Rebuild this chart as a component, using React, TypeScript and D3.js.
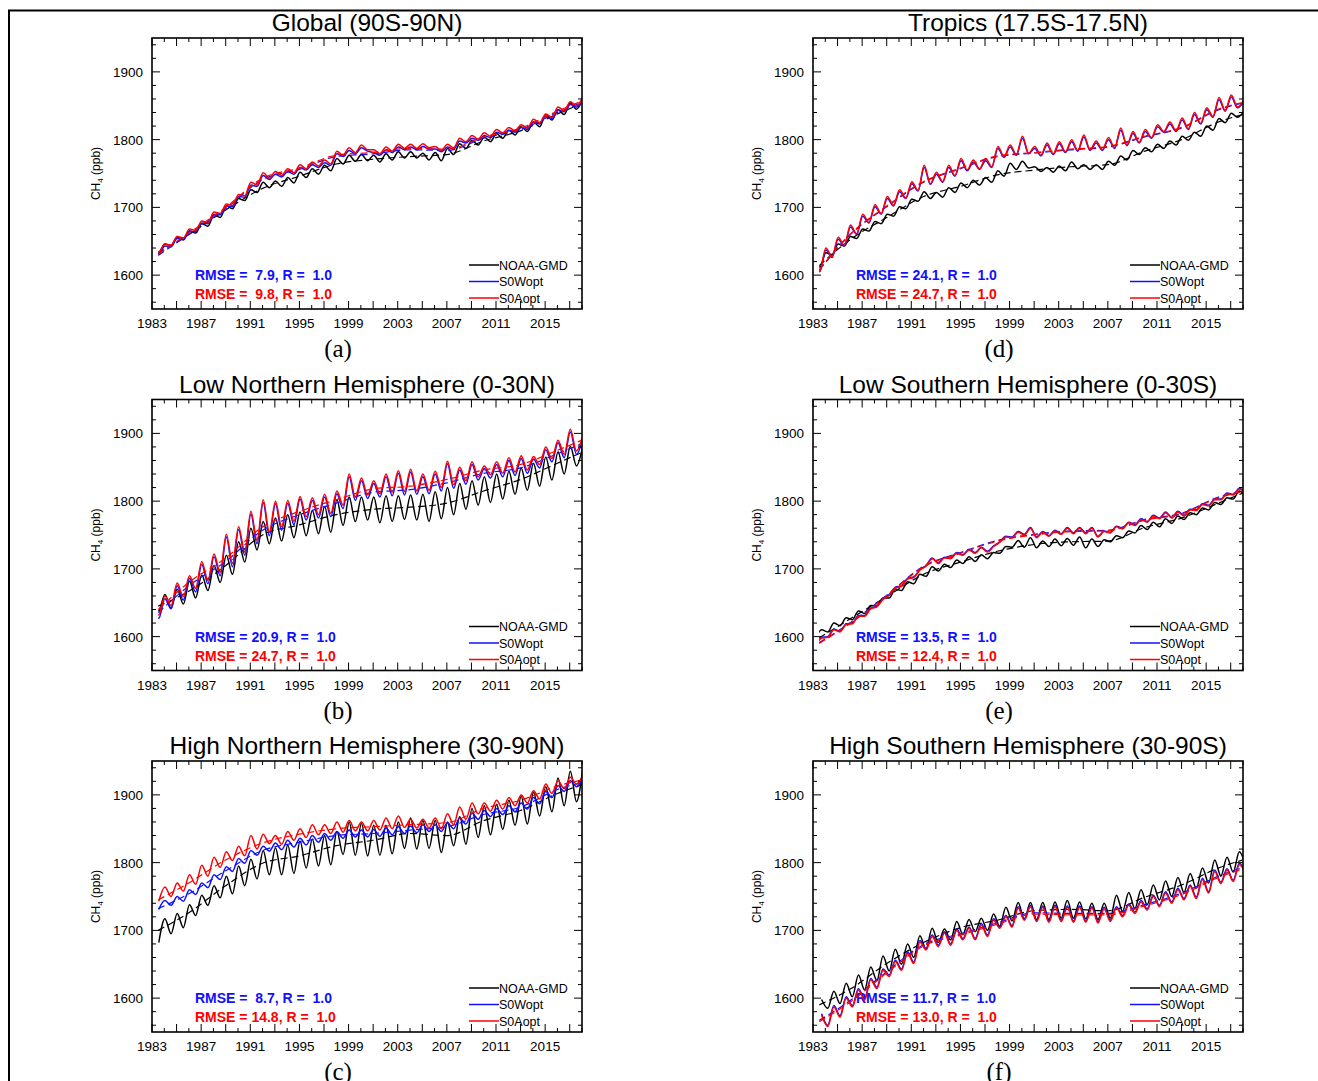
import React from 'react';
import * as d3 from 'd3';

// ---------- categories / ticks ----------
const YEARS = d3.range(1983, 2019);
const TREND_YEARS = [1983.5, 1986, 1989, 1992, 1995, 1998, 2001, 2004, 2007, 2010, 2013, 2016, 2018];
const X_TICK_LABELS = [1983, 1987, 1991, 1995, 1999, 2003, 2007, 2011, 2015];
const Y_TICK_LABELS = [1600, 1700, 1800, 1900];
const SERIES_NAMES = ['NOAA-GMD', 'S0Wopt', 'S0Aopt'];
const SERIES_COLORS = ['#000000', '#1010ff', '#ff0000'];

// ---------- (a) Global ----------
const GLB_NOAA_LO = [1634,1644,1652,1662,1672,1685,1698,1710,1722,1729,1731,1736,1744,1749,1754,1764,1768,1769,1767,1770,1773,1773,1770,1769,1778,1787,1792,1797,1802,1807,1812,1819,1829,1837,1845];
const GLB_NOAA_HI = [1636,1646,1656,1665,1676,1689,1702,1713,1726,1737,1739,1744,1752,1757,1762,1772,1777,1778,1777,1779,1782,1782,1780,1781,1787,1794,1799,1804,1809,1814,1819,1826,1837,1844,1854,1859];
const GLB_NOAA_TREND = [1632,1660,1696,1728,1746,1764,1771,1775,1778,1798,1813,1838,1853];
const GLB_W_LO = [1631,1642,1653,1664,1676,1689,1701,1715,1731,1741,1745,1749,1755,1759,1762,1775,1779,1783,1777,1781,1785,1785,1786,1782,1786,1795,1799,1803,1808,1811,1815,1823,1831,1841,1848];
const GLB_W_HI = [1631,1643,1654,1665,1677,1690,1702,1716,1733,1747,1749,1753,1759,1763,1766,1779,1784,1788,1781,1785,1789,1789,1790,1786,1789,1798,1802,1806,1811,1814,1818,1826,1834,1844,1852,1858];
const GLB_W_TREND = [1629,1660,1698,1741,1756,1775,1779,1785,1784,1802,1815,1840,1855];
const GLB_A_LO = [1634,1644,1655,1666,1678,1691,1703,1717,1733,1743,1747,1751,1757,1761,1764,1777,1781,1785,1779,1783,1787,1787,1788,1784,1788,1797,1801,1805,1810,1813,1817,1825,1833,1843,1850];
const GLB_A_HI = [1634,1646,1657,1668,1680,1693,1705,1719,1737,1751,1753,1757,1763,1767,1770,1783,1788,1792,1785,1789,1793,1793,1794,1790,1793,1802,1806,1810,1815,1818,1822,1830,1838,1848,1856,1862];
const GLB_A_TREND = [1631,1662,1700,1743,1758,1777,1781,1787,1786,1804,1817,1842,1857];

// ---------- (b) Low Northern Hemisphere ----------
const LNH_NOAA_LO = [1638,1642,1648,1657,1668,1680,1692,1710,1728,1737,1741,1746,1749,1752,1754,1764,1770,1772,1768,1770,1773,1772,1770,1774,1780,1788,1794,1798,1803,1810,1816,1822,1831,1840,1852];
const LNH_NOAA_HI = [1658,1662,1670,1682,1691,1705,1720,1740,1760,1770,1775,1780,1784,1786,1792,1802,1806,1806,1806,1808,1808,1809,1810,1814,1820,1826,1830,1836,1840,1844,1849,1856,1865,1873,1881,1880];
const LNH_NOAA_TREND = [1645,1667,1705,1750,1765,1780,1788,1791,1797,1815,1832,1856,1872];
const LNH_W_LO = [1627,1641,1654,1666,1678,1690,1703,1720,1737,1749,1757,1765,1772,1775,1777,1789,1801,1804,1806,1808,1809,1810,1811,1815,1819,1825,1831,1834,1836,1838,1841,1849,1858,1864,1869];
const LNH_W_HI = [1646,1656,1675,1686,1707,1718,1747,1758,1781,1798,1796,1797,1803,1801,1806,1811,1836,1830,1826,1836,1841,1843,1836,1840,1855,1846,1854,1848,1854,1860,1863,1862,1876,1886,1902,1891];
const LNH_W_TREND = [1635,1675,1711,1757,1780,1797,1813,1817,1827,1841,1849,1870,1885];
const LNH_A_LO = [1632,1646,1659,1671,1683,1695,1708,1725,1742,1754,1762,1770,1777,1780,1782,1794,1806,1809,1811,1813,1814,1815,1816,1820,1824,1830,1836,1839,1841,1843,1846,1854,1863,1869,1874];
const LNH_A_HI = [1650,1660,1679,1690,1711,1722,1751,1762,1785,1802,1800,1801,1807,1805,1810,1815,1840,1834,1830,1840,1845,1847,1840,1844,1859,1850,1858,1852,1858,1864,1867,1866,1880,1890,1906,1895];
const LNH_A_TREND = [1640,1680,1716,1762,1785,1802,1818,1822,1832,1846,1854,1875,1890];

// ---------- (c) High Northern Hemisphere ----------
const HNH_NOAA_LO = [1682,1695,1704,1722,1737,1748,1754,1766,1776,1782,1782,1784,1792,1795,1797,1812,1811,1810,1811,1813,1821,1820,1821,1815,1825,1827,1837,1841,1849,1855,1857,1869,1875,1884,1890];
const HNH_NOAA_HI = [1717,1725,1738,1752,1766,1780,1795,1805,1818,1822,1826,1832,1835,1840,1846,1860,1858,1855,1855,1860,1866,1862,1862,1860,1868,1880,1884,1886,1892,1898,1904,1912,1925,1935,1937];
const HNH_NOAA_TREND = [1700,1726,1766,1799,1810,1825,1833,1843,1840,1862,1877,1902,1915];
const HNH_W_LO = [1731,1737,1743,1753,1763,1775,1787,1799,1811,1817,1819,1823,1826,1830,1833,1836,1838,1838,1839,1841,1843,1844,1846,1846,1850,1857,1864,1868,1871,1875,1879,1887,1896,1905,1912];
const HNH_W_HI = [1744,1750,1760,1770,1782,1794,1806,1818,1824,1829,1833,1836,1840,1843,1846,1848,1848,1849,1851,1853,1854,1856,1856,1859,1866,1873,1877,1880,1884,1888,1896,1905,1914,1921,1925];
const HNH_W_TREND = [1732,1754,1788,1818,1830,1840,1843,1848,1853,1871,1882,1908,1918];
const HNH_A_LO = [1743,1750,1758,1768,1780,1793,1803,1810,1820,1828,1827,1833,1837,1841,1843,1845,1847,1847,1848,1850,1852,1851,1851,1850,1856,1864,1872,1876,1879,1884,1888,1894,1902,1909,1916];
const HNH_A_HI = [1764,1770,1782,1796,1808,1816,1824,1840,1842,1840,1846,1850,1856,1856,1860,1862,1860,1862,1866,1869,1864,1864,1866,1872,1882,1888,1888,1892,1896,1900,1906,1916,1921,1926,1928];
const HNH_A_TREND = [1745,1770,1804,1829,1842,1850,1853,1856,1859,1880,1892,1913,1922];

// ---------- (d) Tropics ----------
const TRP_NOAA_LO = [1612,1630,1643,1654,1665,1676,1687,1698,1709,1713,1715,1722,1729,1733,1737,1746,1756,1758,1753,1752,1754,1757,1756,1756,1762,1770,1778,1782,1787,1792,1799,1805,1814,1825,1833];
const TRP_NOAA_HI = [1619,1633,1646,1657,1668,1679,1690,1701,1712,1723,1722,1729,1736,1740,1744,1754,1765,1768,1760,1759,1761,1767,1763,1763,1768,1776,1784,1788,1793,1798,1805,1811,1820,1831,1839,1841];
const TRP_NOAA_TREND = [1614,1652,1685,1716,1731,1748,1755,1760,1763,1783,1800,1826,1837];
const TRP_W_LO = [1605,1626,1643,1660,1677,1690,1702,1713,1724,1734,1737,1746,1754,1756,1759,1774,1777,1779,1776,1778,1781,1783,1784,1784,1787,1791,1795,1802,1811,1812,1815,1823,1833,1842,1847];
const TRP_W_HI = [1615,1637,1653,1671,1687,1701,1713,1723,1735,1759,1749,1759,1769,1767,1769,1787,1789,1802,1787,1792,1794,1797,1804,1795,1800,1814,1809,1812,1819,1823,1829,1837,1844,1859,1863,1855];
const TRP_W_TREND = [1607,1659,1701,1737,1757,1775,1780,1785,1789,1804,1817,1844,1854];
const TRP_A_LO = [1606,1627,1644,1661,1678,1691,1703,1714,1725,1735,1738,1747,1755,1757,1760,1775,1778,1780,1777,1779,1782,1784,1785,1785,1788,1792,1796,1803,1812,1813,1816,1824,1834,1843,1848];
const TRP_A_HI = [1618,1640,1656,1674,1690,1704,1716,1726,1738,1762,1752,1762,1772,1770,1772,1790,1792,1805,1790,1795,1797,1800,1807,1798,1803,1817,1812,1815,1822,1826,1832,1840,1847,1862,1866,1858];
const TRP_A_TREND = [1608,1660,1702,1738,1758,1776,1781,1786,1790,1805,1818,1845,1855];

// ---------- (e) Low Southern Hemisphere ----------
const LSH_NOAA_HI = [1610,1620,1628,1638,1646,1657,1670,1681,1692,1703,1707,1713,1718,1721,1724,1733,1742,1746,1741,1744,1745,1747,1744,1743,1749,1756,1764,1769,1774,1778,1783,1790,1798,1805,1815];
const LSH_NOAA_LO = [1598,1607,1616,1625,1634,1645,1657,1668,1678,1689,1697,1702,1708,1711,1715,1723,1732,1732,1731,1733,1734,1735,1731,1733,1740,1746,1753,1758,1762,1767,1773,1780,1787,1795,1803,1808];
const LSH_NOAA_TREND = [1598,1626,1659,1692,1710,1726,1736,1740,1741,1761,1775,1797,1812];
const LSH_W_HI = [1599,1611,1619,1631,1642,1656,1673,1686,1699,1716,1717,1724,1729,1732,1734,1748,1755,1761,1755,1757,1761,1761,1761,1756,1763,1769,1774,1779,1784,1785,1788,1796,1803,1812,1819];
const LSH_W_LO = [1585,1600,1608,1620,1631,1645,1662,1675,1688,1705,1709,1716,1721,1724,1726,1740,1747,1751,1747,1749,1752,1753,1753,1748,1754,1760,1765,1770,1775,1776,1779,1787,1794,1803,1810,1813];
const LSH_W_TREND = [1591,1620,1661,1704,1724,1742,1751,1756,1757,1773,1782,1806,1815];
const LSH_A_HI = [1598,1610,1618,1630,1641,1655,1672,1685,1698,1715,1716,1723,1728,1731,1733,1747,1754,1760,1754,1756,1760,1760,1760,1755,1762,1768,1773,1778,1783,1784,1787,1795,1802,1811,1818];
const LSH_A_LO = [1584,1599,1607,1619,1630,1644,1661,1674,1687,1704,1708,1715,1720,1723,1725,1739,1746,1750,1746,1748,1751,1752,1752,1747,1753,1759,1764,1769,1774,1775,1778,1786,1793,1802,1809,1812];
const LSH_A_TREND = [1590,1619,1660,1703,1723,1741,1750,1755,1756,1772,1781,1805,1814];

// ---------- (f) High Southern Hemisphere ----------
const HSH_NOAA_HI = [1598,1610,1622,1634,1646,1662,1672,1680,1692,1703,1702,1713,1716,1718,1724,1734,1741,1741,1741,1742,1744,1742,1740,1740,1752,1756,1760,1767,1773,1778,1784,1792,1804,1808,1816];
const HSH_NOAA_LO = [1585,1592,1602,1612,1626,1640,1650,1660,1672,1682,1686,1694,1698,1700,1706,1714,1716,1716,1716,1718,1718,1717,1716,1718,1728,1732,1738,1745,1750,1756,1762,1770,1780,1786,1796];
const HSH_NOAA_TREND = [1590,1613,1651,1682,1704,1715,1729,1731,1729,1749,1767,1792,1804];
const HSH_W_HI = [1577,1589,1602,1614,1629,1643,1656,1668,1685,1693,1698,1702,1705,1710,1717,1722,1735,1737,1736,1737,1736,1736,1735,1734,1735,1739,1744,1752,1757,1762,1767,1777,1789,1791,1799];
const HSH_W_LO = [1560,1574,1589,1599,1616,1634,1643,1653,1673,1678,1680,1688,1688,1693,1705,1707,1717,1715,1714,1715,1714,1714,1713,1715,1722,1727,1732,1737,1742,1747,1749,1757,1771,1774,1787];
const HSH_W_TREND = [1567,1596,1639,1679,1695,1711,1726,1725,1725,1738,1755,1780,1793];
const HSH_A_HI = [1575,1587,1600,1612,1627,1641,1654,1666,1683,1691,1696,1700,1703,1708,1715,1720,1733,1735,1734,1735,1734,1734,1733,1732,1733,1737,1742,1750,1755,1760,1765,1775,1787,1789,1797];
const HSH_A_LO = [1558,1572,1587,1597,1614,1632,1641,1651,1671,1676,1678,1686,1686,1691,1703,1705,1715,1713,1712,1713,1712,1712,1711,1713,1720,1725,1730,1735,1740,1745,1747,1755,1769,1772,1785];
const HSH_A_TREND = [1565,1594,1637,1677,1693,1709,1724,1723,1723,1736,1753,1778,1791];

// ---------- panels ----------
const PANELS = [
  { title: 'Global (90S-90N)', label: '(a)', col: 0, row: 0, pLo: 0.55, pHi: 0.05, rmse: ['7.9', '9.8'],
    series: [[GLB_NOAA_LO, GLB_NOAA_HI, GLB_NOAA_TREND], [GLB_W_LO, GLB_W_HI, GLB_W_TREND], [GLB_A_LO, GLB_A_HI, GLB_A_TREND]] },
  { title: 'Low Northern Hemisphere (0-30N)', label: '(b)', col: 0, row: 1, pLo: 0.55, pHi: 0.05, rmse: ['20.9', '24.7'],
    series: [[LNH_NOAA_LO, LNH_NOAA_HI, LNH_NOAA_TREND], [LNH_W_LO, LNH_W_HI, LNH_W_TREND], [LNH_A_LO, LNH_A_HI, LNH_A_TREND]] },
  { title: 'High Northern Hemisphere (30-90N)', label: '(c)', col: 0, row: 2, pLo: 0.55, pHi: 1.05, rmse: ['8.7', '14.8'],
    series: [[HNH_NOAA_LO, HNH_NOAA_HI, HNH_NOAA_TREND], [HNH_W_LO, HNH_W_HI, HNH_W_TREND], [HNH_A_LO, HNH_A_HI, HNH_A_TREND]] },
  { title: 'Tropics (17.5S-17.5N)', label: '(d)', col: 1, row: 0, pLo: 0.55, pHi: 0.05, rmse: ['24.1', '24.7'],
    series: [[TRP_NOAA_LO, TRP_NOAA_HI, TRP_NOAA_TREND], [TRP_W_LO, TRP_W_HI, TRP_W_TREND], [TRP_A_LO, TRP_A_HI, TRP_A_TREND]] },
  { title: 'Low Southern Hemisphere (0-30S)', label: '(e)', col: 1, row: 1, pLo: 0.2, pHi: 0.7, rmse: ['13.5', '12.4'],
    series: [[LSH_NOAA_LO, LSH_NOAA_HI, LSH_NOAA_TREND], [LSH_W_LO, LSH_W_HI, LSH_W_TREND], [LSH_A_LO, LSH_A_HI, LSH_A_TREND]] },
  { title: 'High Southern Hemisphere (30-90S)', label: '(f)', col: 1, row: 2, pLo: 1.2, pHi: 0.7, rmse: ['11.7', '13.0'],
    series: [[HSH_NOAA_LO, HSH_NOAA_HI, HSH_NOAA_TREND], [HSH_W_LO, HSH_W_HI, HSH_W_TREND], [HSH_A_LO, HSH_A_HI, HSH_A_TREND]] },
];

const COL_X = [152, 813];
const ROW_Y = [38, 399.5, 761];
const PW = 430;
const PH = 271;
const SANS = '"Liberation Sans", Arial, Helvetica, sans-serif';
const SERIF = '"Liberation Serif", "Times New Roman", serif';

function buildPoints(lo: number[], hi: number[], pLo: number, pHi: number): [number, number][] {
  const pts: [number, number][] = [];
  YEARS.forEach((yr, i) => {
    if (lo[i] != null) pts.push([yr + pLo, lo[i]]);
    if (hi[i] != null) pts.push([yr + pHi, hi[i]]);
  });
  return pts.sort((a, b) => a[0] - b[0]);
}

function Panel({ p, idx }: { p: any; idx: number }) {
  const x0 = COL_X[p.col];
  const y0 = ROW_Y[p.row];
  const x = d3.scaleLinear().domain([1983, 2018]).range([x0, x0 + PW]);
  const y = d3.scaleLinear().domain([1550, 1950]).range([y0 + PH, y0]);
  const line = d3.line<[number, number]>().x((d) => x(d[0])).y((d) => y(d[1])).curve(d3.curveMonotoneX);
  const clipId = `clip-${idx}`;

  const xMinor = d3.range(1983, 2019);
  const yMinor = d3.range(1560, 1950, 20);
  const ticks: JSX.Element[] = [];
  xMinor.forEach((t) => {
    const major = (t - 1983) % 2 === 0;
    const L = major ? 8 : 4;
    const xx = x(t);
    ticks.push(<line key={`xb${t}`} x1={xx} x2={xx} y1={y0 + PH} y2={y0 + PH - L} />);
    ticks.push(<line key={`xt${t}`} x1={xx} x2={xx} y1={y0} y2={y0 + L} />);
  });
  yMinor.forEach((v) => {
    const major = v % 100 === 0;
    const L = major ? 8 : 4;
    const yy = y(v);
    ticks.push(<line key={`yl${v}`} x1={x0} x2={x0 + L} y1={yy} y2={yy} />);
    ticks.push(<line key={`yr${v}`} x1={x0 + PW} x2={x0 + PW - L} y1={yy} y2={yy} />);
  });

  const rmseText = (v: string) => `RMSE = ${v.padStart(4, ' ')}, R =  1.0`;
  const clipX = x(1983.5);

  return (
    <g>
      <defs>
        <clipPath id={clipId}>
          <rect x={clipX} y={y0} width={x0 + PW - clipX} height={PH} />
        </clipPath>
      </defs>
      <text x={x0 + PW / 2} y={y0 - 7} textAnchor="middle" fontFamily={SANS} fontSize={24.5} fill="#000">
        {p.title}
      </text>
      <text x={x0 + 43} y={y0 + 242} fontFamily={SANS} fontSize={14} fontWeight="bold" fill={SERIES_COLORS[1]} style={{ whiteSpace: 'pre' }}>
        {rmseText(p.rmse[0])}
      </text>
      <text x={x0 + 43} y={y0 + 261} fontFamily={SANS} fontSize={14} fontWeight="bold" fill={SERIES_COLORS[2]} style={{ whiteSpace: 'pre' }}>
        {rmseText(p.rmse[1])}
      </text>
      {SERIES_NAMES.map((n, i) => {
        const ly = y0 + 227 + i * 16.5;
        return (
          <g key={n}>
            <line x1={x0 + 317} x2={x0 + 347} y1={ly} y2={ly} stroke={SERIES_COLORS[i]} strokeWidth={1.5} />
            <text x={x0 + 347} y={ly + 4.5} fontFamily={SANS} fontSize={12.5} fill="#000">{n}</text>
          </g>
        );
      })}
      <g clipPath={`url(#${clipId})`}>
        {p.series.map((s: number[][], i: number) => {
          const pts = buildPoints(s[0], s[1], p.pLo, p.pHi);
          const tr: [number, number][] = TREND_YEARS.map((t, k) => [t, s[2][k]] as [number, number]);
          return (
            <g key={i}>
              <path d={line(pts) || ''} fill="none" stroke={SERIES_COLORS[i]} strokeWidth={1.5} strokeLinejoin="round" />
              <path d={line(tr) || ''} fill="none" stroke={SERIES_COLORS[i]} strokeWidth={1.2} strokeDasharray="7,4" />
            </g>
          );
        })}
      </g>
      <g stroke="#000" strokeWidth={1}>{ticks}</g>
      <rect x={x0} y={y0} width={PW} height={PH} fill="none" stroke="#000" strokeWidth={1.6} />
      {X_TICK_LABELS.map((t) => (
        <text key={t} x={x(t)} y={y0 + PH + 19} textAnchor="middle" fontFamily={SANS} fontSize={13.5} fill="#000">{t}</text>
      ))}
      {Y_TICK_LABELS.map((v) => (
        <text key={v} x={x0 - 9} y={y(v) + 5} textAnchor="end" fontFamily={SANS} fontSize={13.5} fill="#000">{v}</text>
      ))}
      <text transform={`translate(${x0 - 52},${y0 + PH / 2}) rotate(-90)`} textAnchor="middle" fontFamily={SANS} fontSize={12} fill="#000">
        CH<tspan fontSize={8} dy={3}>4</tspan><tspan dy={-3}> (ppb)</tspan>
      </text>
      <text x={x0 + 186} y={y0 + 319} textAnchor="middle" fontFamily={SERIF} fontSize={25} fill="#000">{p.label}</text>
    </g>
  );
}

export default function App() {
  return (
    <svg width={1318} height={1081} style={{ position: 'absolute', left: 0, top: 0, display: 'block', background: '#fff' }}>
      <rect x={0} y={0} width={1318} height={1081} fill="#fff" />
      <polyline points="9,1081 9,10.5 1318,10.5" fill="none" stroke="#000" strokeWidth={2} />
      {PANELS.map((p, i) => (
        <Panel key={i} p={p} idx={i} />
      ))}
    </svg>
  );
}
